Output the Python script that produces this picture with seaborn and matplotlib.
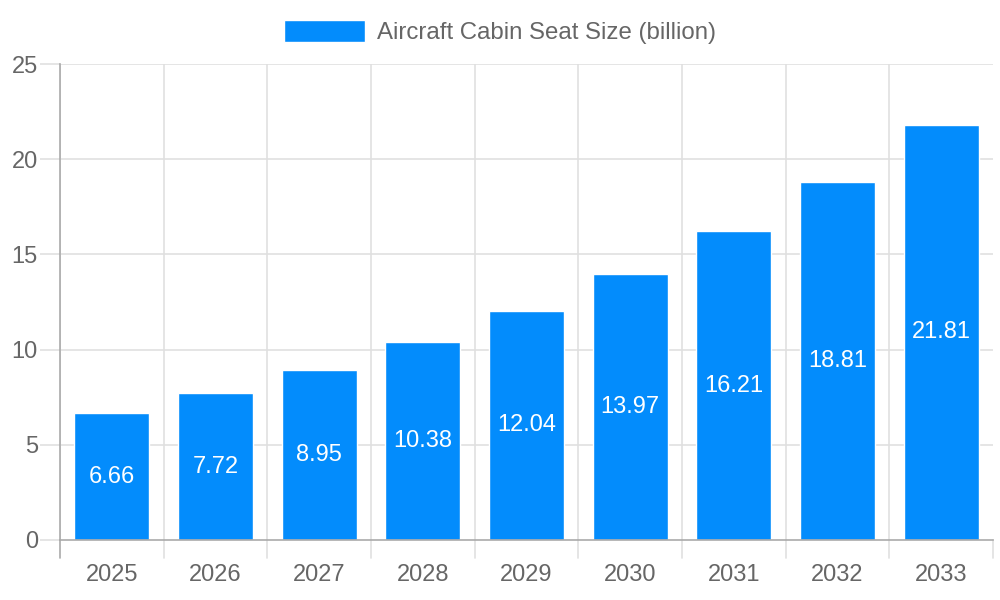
import matplotlib
matplotlib.use("Agg")
import matplotlib.pyplot as plt
import seaborn as sns
import pandas as pd

years = ["2025", "2026", "2027", "2028", "2029", "2030", "2031", "2032", "2033"]
values = [6.66, 7.72, 8.95, 10.38, 12.04, 13.97, 16.21, 18.81, 21.81]
series_name = "Aircraft Cabin Seat Size (billion)"
y_ticks = [0, 5, 10, 15, 20, 25]

sns.set_theme(style="white")
plt.rcParams['font.family'] = ['Liberation Sans', 'DejaVu Sans']

df = pd.DataFrame({"year": years, "value": values})
color = "#038cfc"
txt = "#666666"

fig = plt.figure(figsize=(10, 6), dpi=100)
ax = fig.add_axes([0.06, 0.1, 0.933, 0.7933])
sns.barplot(data=df, x="year", y="value", color=color, width=0.725,
            saturation=1, ax=ax, label=series_name, legend=False)

ax.set_ylim(0, 25)
ax.set_xlim(-0.5, len(years) - 0.5)
ax.set_yticks(y_ticks)
ax.set_xlabel("")
ax.set_ylabel("")

# grid
for yv in y_ticks[1:]:
    ax.axhline(yv, color="#e0e0e0", lw=1.2, zorder=0)
for i in range(len(years)):
    ax.axvline(i - 0.5, color="#e0e0e0", lw=1.2, zorder=0)
ax.set_axisbelow(True)

for s in ["top", "right"]:
    ax.spines[s].set_visible(False)
ax.spines["left"].set_color("#aaaaaa")
ax.spines["left"].set_linewidth(1.2)
ax.spines["bottom"].set_color("#aaaaaa")
ax.spines["bottom"].set_linewidth(1.2)

ax.tick_params(axis="y", length=14.4, color="#e0e0e0", width=1.2, labelsize=17,
               labelcolor=txt, pad=1.5, left=True)
ax.tick_params(axis="x", length=0, labelsize=17, labelcolor=txt, pad=17.5)
# x boundary ticks (below axis) at category edges
for i in range(len(years) + 1):
    ax.plot([i - 0.5, i - 0.5], [0, -0.95], color="#e0e0e0" if i else "#aaaaaa",
            lw=1.2, clip_on=False, zorder=1)

for i, v in enumerate(values):
    ax.text(i, v / 2, f"{v:.2f}", ha="center", va="center", color="white",
            fontsize=17)

handles, labels = ax.get_legend_handles_labels()
if ax.get_legend() is not None:
    ax.get_legend().remove()
fig.legend(handles, labels, loc="center", bbox_to_anchor=(0.5, 1 - 32 / 600),
           frameon=False, fontsize=17.3, handlelength=3.35, handleheight=1.0,
           handletextpad=0.5, labelcolor=txt, borderpad=0, borderaxespad=0)

fig.savefig("out.png", dpi=100)
